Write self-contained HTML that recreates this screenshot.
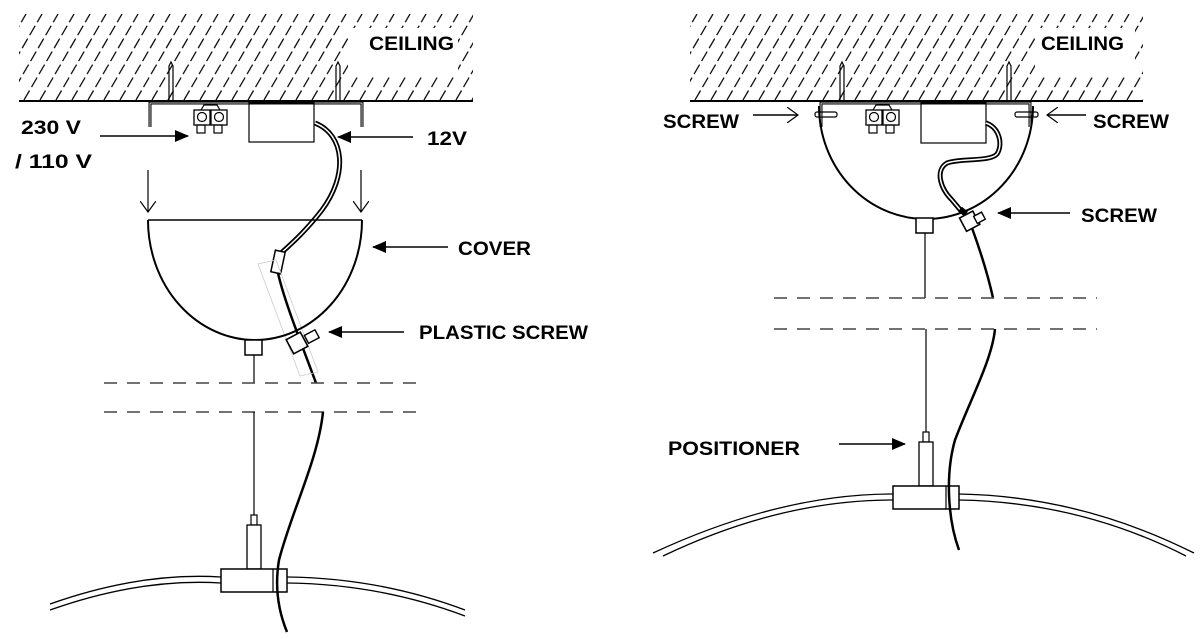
<!DOCTYPE html>
<html><head><meta charset="utf-8"><style>
html,body{margin:0;padding:0;background:#fff;}
svg{display:block;}
text{font-family:"Liberation Sans",sans-serif;font-weight:bold;font-size:19px;fill:#000;}
</style></head><body>
<svg width="1200" height="639" viewBox="0 0 1200 639" xmlns="http://www.w3.org/2000/svg">
<defs>
<clipPath id="c1"><path d="M19 14 H473 V100 H19 Z M348 28 V75 H458 V28 Z" clip-rule="evenodd"/></clipPath>
<clipPath id="c2"><path d="M690 14 H1143 V100 H690 Z M1035 28 V75 H1135 V28 Z" clip-rule="evenodd"/></clipPath>
<marker id="fa2" markerWidth="14" markerHeight="12" refX="13" refY="6" orient="auto" markerUnits="userSpaceOnUse"><path d="M0 0 L14 6 L0 12 Z" fill="#000"/></marker>
<marker id="oa" markerWidth="12" markerHeight="16" refX="11" refY="8" orient="auto" markerUnits="userSpaceOnUse"><path d="M0 0 L11 8 L0 16" fill="none" stroke="#000" stroke-width="1.2"/></marker>
</defs>

<g stroke="#111" stroke-width="1.3" stroke-dasharray="11 4" clip-path="url(#c1)">
<g id="h">
<line x1="-40" y1="100" x2="10" y2="14"/><line x1="-24" y1="100" x2="26" y2="14"/><line x1="-8" y1="100" x2="42" y2="14"/><line x1="8" y1="100" x2="58" y2="14"/><line x1="24" y1="100" x2="74" y2="14"/><line x1="40" y1="100" x2="90" y2="14"/><line x1="56" y1="100" x2="106" y2="14"/><line x1="72" y1="100" x2="122" y2="14"/><line x1="88" y1="100" x2="138" y2="14"/><line x1="104" y1="100" x2="154" y2="14"/><line x1="120" y1="100" x2="170" y2="14"/><line x1="136" y1="100" x2="186" y2="14"/><line x1="152" y1="100" x2="202" y2="14"/><line x1="168" y1="100" x2="218" y2="14"/><line x1="184" y1="100" x2="234" y2="14"/><line x1="200" y1="100" x2="250" y2="14"/><line x1="216" y1="100" x2="266" y2="14"/><line x1="232" y1="100" x2="282" y2="14"/><line x1="248" y1="100" x2="298" y2="14"/><line x1="264" y1="100" x2="314" y2="14"/><line x1="280" y1="100" x2="330" y2="14"/><line x1="296" y1="100" x2="346" y2="14"/><line x1="312" y1="100" x2="362" y2="14"/><line x1="328" y1="100" x2="378" y2="14"/><line x1="344" y1="100" x2="394" y2="14"/><line x1="360" y1="100" x2="410" y2="14"/><line x1="376" y1="100" x2="426" y2="14"/><line x1="392" y1="100" x2="442" y2="14"/><line x1="408" y1="100" x2="458" y2="14"/><line x1="424" y1="100" x2="474" y2="14"/><line x1="440" y1="100" x2="490" y2="14"/><line x1="456" y1="100" x2="506" y2="14"/><line x1="472" y1="100" x2="522" y2="14"/>
</g>
</g>
<g stroke="#111" stroke-width="1.3" stroke-dasharray="11 4" clip-path="url(#c2)">
<use href="#h" transform="translate(671,0)"/>
</g>

<g fill="none" stroke="#000" stroke-width="1.5">
<line x1="19" y1="101" x2="473" y2="101" stroke-width="2"/>
<path d="M169 66 L171 62 L173 66 V103 H169 Z" stroke-width="1.2"/>
<path d="M336 66 L338 62 L340 66 V103 H336 Z" stroke-width="1.2"/>
<path d="M150 127 V103 H362 V127" stroke-width="3"/>
<path d="M150 127 V103 H362 V127" stroke="#fff" stroke-width="0.8"/>
<rect x="194" y="110" width="16" height="15" stroke-width="1.3"/><rect x="211" y="110" width="16" height="15" stroke-width="1.3"/>
<circle cx="202" cy="117" r="4.5" stroke-width="1.2"/><circle cx="219" cy="117" r="4.5" stroke-width="1.2"/>
<rect x="197" y="125" width="8" height="8" stroke-width="1.2"/><rect x="214" y="125" width="8" height="8" stroke-width="1.2"/>
<path d="M201 110 L204 105 H217 L220 110" stroke-width="1.2"/>
<rect x="249" y="103" width="65" height="39" stroke-width="1.2"/>
<path d="M315 123 C345 135 348 175 322 210 C305 232 290 245 280 254" stroke-width="5"/>
<path d="M315 123 C345 135 348 175 322 210 C305 232 290 245 280 254" stroke="#fff" stroke-width="1.5"/>
<rect x="273" y="251" width="10" height="22" transform="rotate(12 278 262)" fill="#fff" stroke-width="1.5"/>
<path d="M278 273 C284 300 300 340 316 383" stroke-width="2.5"/>
<path d="M258 264 L276 260 L318 372 L300 376 Z" stroke="#ccc" stroke-width="0.8"/>
<line x1="148" y1="220" x2="362" y2="220" stroke-width="1.5"/>
<path d="M148 220 A107 120 0 0 0 362 220" stroke-width="2"/>
<line x1="148" y1="170" x2="148" y2="212" stroke-width="1.2" marker-end="url(#oa)"/>
<line x1="361" y1="170" x2="361" y2="212" stroke-width="1.2" marker-end="url(#oa)"/>
<rect x="245" y="340" width="17" height="15" fill="#fff" stroke-width="1.5"/>
<line x1="254" y1="355" x2="254" y2="383" stroke-width="1.2"/>
<rect x="289" y="335" width="16" height="16" transform="rotate(-28 297 343)" fill="#fff" stroke-width="1.6"/>
<rect x="306" y="332" width="12" height="9" transform="rotate(-28 312 337)" fill="#fff" stroke-width="1.4"/>
<g stroke="#444" stroke-width="1.5" stroke-dasharray="13 10">
<line x1="104" y1="383" x2="426" y2="383"/><line x1="104" y1="412" x2="426" y2="412"/>
</g>
<line x1="254" y1="412" x2="254" y2="515" stroke-width="1.2"/>
<rect x="251" y="515" width="6" height="10" stroke-width="1.2"/>
<rect x="247" y="525" width="14" height="44" fill="#fff" stroke-width="1.3"/>
<path d="M50 604 Q140 572 221 577" stroke-width="1.3"/>
<path d="M50 610 Q140 578 221 583" stroke-width="1.3"/>
<path d="M287 577 Q380 578 465 610" stroke-width="1.3"/>
<path d="M287 583 Q380 584 465 616" stroke-width="1.3"/>
<rect x="221" y="569" width="66" height="23" fill="#fff" stroke-width="1.5"/>
<line x1="273" y1="569" x2="273" y2="592" stroke-width="1.2"/>
<path d="M323 412 C318 460 292 510 279 560 C274 590 280 615 287 632" stroke-width="2.5"/>

<line x1="690" y1="101" x2="1143" y2="101" stroke-width="2"/>
<path d="M840 66 L842 62 L844 66 V103 H840 Z" stroke-width="1.2"/>
<path d="M1007 66 L1009 62 L1011 66 V103 H1007 Z" stroke-width="1.2"/>
<path d="M821 127 V103 H1030 V127" stroke-width="3"/>
<path d="M821 127 V103 H1030 V127" stroke="#fff" stroke-width="0.8"/>
<rect x="815" y="112" width="22" height="5" rx="2" stroke-width="1.2"/>
<rect x="1015" y="112" width="23" height="5" rx="2" stroke-width="1.2"/>
<rect x="866" y="110" width="16" height="15" stroke-width="1.3"/><rect x="883" y="110" width="16" height="15" stroke-width="1.3"/>
<circle cx="874" cy="117" r="4.5" stroke-width="1.2"/><circle cx="891" cy="117" r="4.5" stroke-width="1.2"/>
<rect x="869" y="125" width="8" height="8" stroke-width="1.2"/><rect x="886" y="125" width="8" height="8" stroke-width="1.2"/>
<path d="M873 110 L876 105 H889 L892 110" stroke-width="1.2"/>
<rect x="921" y="103" width="65" height="40" stroke-width="1.2"/>
<path d="M819 106 A107 113 0 0 0 1033 106" stroke-width="2"/>
<path d="M986 123 C1000 128 1003 145 997 154 C990 162 960 158 947 163 C935 170 940 188 952 200 L962 212" stroke-width="5"/>
<path d="M986 123 C1000 128 1003 145 997 154 C990 162 960 158 947 163 C935 170 940 188 952 200 L962 212" stroke="#fff" stroke-width="1.5"/>
<path d="M960 209 L966 214" stroke-width="6"/>
<path d="M972 228 C980 250 988 275 993 298" stroke-width="2.5"/>
<rect x="962" y="214" width="15" height="15" transform="rotate(-28 969 221)" fill="#fff" stroke-width="1.6"/>
<rect x="975" y="214" width="9" height="8" transform="rotate(-28 979 218)" fill="#fff" stroke-width="1.4"/>
<rect x="916" y="218" width="17" height="15" fill="#fff" stroke-width="1.5"/>
<line x1="925" y1="233" x2="925" y2="298" stroke-width="1.2"/>
<g stroke="#444" stroke-width="1.5" stroke-dasharray="13 10">
<line x1="774" y1="298" x2="1097" y2="298"/><line x1="774" y1="329" x2="1097" y2="329"/>
</g>
<line x1="926" y1="329" x2="926" y2="432" stroke-width="1.2"/>
<rect x="923" y="432" width="6" height="10" stroke-width="1.2"/>
<rect x="919" y="442" width="14" height="44" fill="#fff" stroke-width="1.3"/>
<path d="M653 553 Q780 494 893 494" stroke-width="1.3"/>
<path d="M663 556 Q780 500 893 500" stroke-width="1.3"/>
<path d="M959 494 Q1080 496 1194 553" stroke-width="1.3"/>
<path d="M959 500 Q1080 502 1186 556" stroke-width="1.3"/>
<rect x="893" y="486" width="66" height="23" fill="#fff" stroke-width="1.5"/>
<line x1="946" y1="486" x2="946" y2="509" stroke-width="1.2"/>
<path d="M995 329 C992 360 970 400 955 440 C945 475 948 520 959 550" stroke-width="2.5"/>

<line x1="100" y1="136" x2="188" y2="136" stroke-width="1.6" marker-end="url(#fa2)"/>
<line x1="413" y1="137" x2="338" y2="137" stroke-width="1.6" marker-end="url(#fa2)"/>
<line x1="448" y1="247" x2="373" y2="247" stroke-width="1.6" marker-end="url(#fa2)"/>
<line x1="404" y1="332" x2="329" y2="332" stroke-width="1.6" marker-end="url(#fa2)"/>
<line x1="753" y1="115" x2="798" y2="115" stroke-width="1.4" marker-end="url(#oa)"/>
<line x1="1086" y1="115" x2="1047" y2="115" stroke-width="1.4" marker-end="url(#oa)"/>
<line x1="1070" y1="213" x2="998" y2="213" stroke-width="1.6" marker-end="url(#fa2)"/>
<line x1="839" y1="444" x2="905" y2="444" stroke-width="1.6" marker-end="url(#fa2)"/>
</g>

<text x="369" y="50" textLength="85" lengthAdjust="spacingAndGlyphs">CEILING</text>
<text x="1041" y="50" textLength="83" lengthAdjust="spacingAndGlyphs">CEILING</text>
<text x="21" y="134" textLength="60" lengthAdjust="spacingAndGlyphs">230 V</text>
<text x="15" y="168" textLength="77" lengthAdjust="spacingAndGlyphs">/ 110 V</text>
<text x="427" y="145" textLength="40" lengthAdjust="spacingAndGlyphs">12V</text>
<text x="458" y="255" textLength="73" lengthAdjust="spacingAndGlyphs">COVER</text>
<text x="419" y="339" textLength="169" lengthAdjust="spacingAndGlyphs">PLASTIC SCREW</text>
<text x="663" y="128" textLength="76" lengthAdjust="spacingAndGlyphs">SCREW</text>
<text x="1093" y="128" textLength="76" lengthAdjust="spacingAndGlyphs">SCREW</text>
<text x="1081" y="222" textLength="76" lengthAdjust="spacingAndGlyphs">SCREW</text>
<text x="668" y="455" textLength="132" lengthAdjust="spacingAndGlyphs">POSITIONER</text>
</svg>
</body></html>
